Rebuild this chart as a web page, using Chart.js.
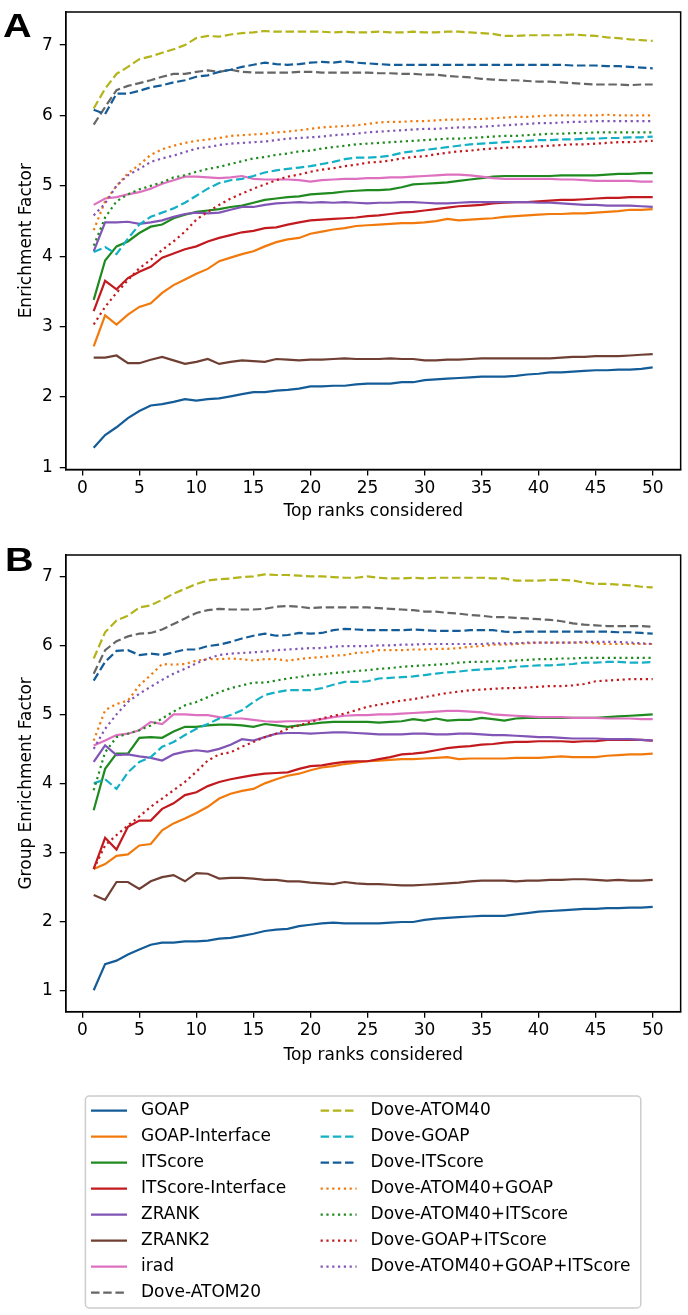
<!DOCTYPE html>
<html>
<head>
<meta charset="utf-8">
<script src="https://cdn.jsdelivr.net/npm/chart.js@4.4.0/dist/chart.umd.min.js"></script>
<style>
  html, body { margin: 0; padding: 0; background: #fff; }
  body { width: 688px; height: 1315px; position: relative; overflow: hidden; }
  canvas { position: absolute; left: 0; }
  #chartA { top: 0; }
  #chartB { top: 530px; }
</style>
</head>
<body>
<canvas id="chartA" width="688" height="522"></canvas>
<canvas id="chartB" width="688" height="785"></canvas>
<script>
// x values: top ranks considered
const ranks = [1,2,3,4,5,6,7,8,9,10,11,12,13,14,15,16,17,18,19,20,21,22,23,24,25,
  26,27,28,29,30,31,32,33,34,35,36,37,38,39,40,41,42,43,44,45,46,47,48,49,50];
const xTicks = [0, 5, 10, 15, 20, 25, 30, 35, 40, 45, 50];
const yTicks = [1, 2, 3, 4, 5, 6, 7];

const methods = ["GOAP", "GOAP-Interface", "ITScore", "ITScore-Interface", "ZRANK", "ZRANK2", "irad",
  "Dove-ATOM20", "Dove-ATOM40", "Dove-GOAP", "Dove-ITScore",
  "Dove-ATOM40+GOAP", "Dove-ATOM40+ITScore", "Dove-GOAP+ITScore", "Dove-ATOM40+GOAP+ITScore"];

// ---- panel A : Enrichment Factor ----
const goapA = [1.28,1.46,1.57,1.70,1.80,1.88,1.90,1.93,1.97,1.95,1.97,1.98,2.01,2.04,2.07,2.07,2.09,2.10,2.12,2.15,
  2.15,2.16,2.16,2.18,2.19,2.19,2.19,2.21,2.21,2.24,2.25,2.26,2.27,2.28,2.29,2.29,2.29,2.30,2.32,2.33,
  2.35,2.35,2.36,2.37,2.38,2.38,2.39,2.39,2.40,2.42];
const goapIfA = [2.72,3.16,3.03,3.17,3.28,3.33,3.48,3.59,3.67,3.75,3.82,3.93,3.98,4.03,4.07,4.14,4.20,4.24,4.26,4.32,
  4.35,4.38,4.40,4.43,4.44,4.45,4.46,4.47,4.47,4.48,4.50,4.53,4.51,4.52,4.53,4.54,4.56,4.57,4.58,4.59,
  4.60,4.60,4.61,4.61,4.62,4.63,4.64,4.66,4.66,4.67];
const itscoreA = [3.38,3.94,4.14,4.21,4.33,4.42,4.45,4.54,4.59,4.63,4.65,4.67,4.70,4.72,4.76,4.80,4.82,4.84,4.85,4.88,
  4.89,4.90,4.92,4.93,4.94,4.94,4.95,4.98,5.02,5.03,5.04,5.05,5.07,5.09,5.11,5.13,5.14,5.14,5.14,5.14,
  5.14,5.15,5.15,5.15,5.15,5.16,5.17,5.17,5.18,5.18];
const itscoreIfA = [3.22,3.65,3.53,3.69,3.78,3.85,3.98,4.04,4.10,4.14,4.21,4.26,4.30,4.34,4.36,4.40,4.41,4.45,4.48,4.51,
  4.52,4.53,4.54,4.55,4.57,4.58,4.60,4.62,4.63,4.65,4.67,4.69,4.71,4.72,4.73,4.75,4.76,4.77,4.77,4.78,
  4.79,4.80,4.80,4.81,4.82,4.83,4.83,4.84,4.84,4.84];
const zrankA = [4.07,4.48,4.48,4.49,4.46,4.48,4.51,4.56,4.60,4.62,4.61,4.62,4.66,4.70,4.70,4.73,4.75,4.76,4.77,4.76,
  4.77,4.76,4.77,4.76,4.75,4.76,4.76,4.77,4.77,4.76,4.75,4.75,4.76,4.77,4.77,4.77,4.77,4.77,4.77,4.76,
  4.76,4.75,4.74,4.73,4.73,4.72,4.72,4.72,4.71,4.70];
const zrank2A = [2.56,2.56,2.59,2.48,2.48,2.53,2.57,2.52,2.47,2.50,2.54,2.47,2.50,2.52,2.51,2.50,2.54,2.53,2.52,2.53,
  2.53,2.54,2.55,2.54,2.54,2.54,2.55,2.54,2.54,2.52,2.52,2.53,2.53,2.54,2.55,2.55,2.55,2.55,2.55,2.55,
  2.55,2.56,2.57,2.57,2.58,2.58,2.58,2.59,2.60,2.61];
const iradA = [4.73,4.82,4.84,4.88,4.91,4.96,5.03,5.08,5.13,5.13,5.12,5.11,5.12,5.14,5.10,5.09,5.09,5.09,5.08,5.06,
  5.08,5.09,5.10,5.10,5.11,5.11,5.12,5.12,5.13,5.14,5.15,5.16,5.16,5.15,5.13,5.11,5.10,5.10,5.10,5.10,
  5.10,5.09,5.09,5.08,5.07,5.07,5.07,5.07,5.06,5.06];
const atom20A = [5.87,6.12,6.36,6.42,6.46,6.50,6.55,6.59,6.59,6.62,6.64,6.62,6.65,6.62,6.61,6.61,6.61,6.61,6.62,6.62,
  6.61,6.61,6.61,6.61,6.61,6.60,6.60,6.59,6.59,6.58,6.58,6.56,6.55,6.54,6.52,6.51,6.50,6.50,6.49,6.48,
  6.48,6.47,6.46,6.45,6.44,6.44,6.44,6.43,6.44,6.44];
const atom40A = [6.10,6.38,6.59,6.69,6.80,6.84,6.89,6.94,7.00,7.10,7.13,7.12,7.15,7.17,7.18,7.20,7.19,7.19,7.19,7.19,
  7.19,7.18,7.19,7.18,7.18,7.19,7.18,7.18,7.19,7.18,7.18,7.19,7.19,7.18,7.17,7.16,7.13,7.13,7.14,7.14,
  7.14,7.14,7.15,7.14,7.13,7.11,7.10,7.08,7.07,7.06];
const doveGoapA = [4.06,4.13,4.03,4.25,4.45,4.56,4.62,4.68,4.76,4.86,4.96,5.04,5.08,5.10,5.14,5.19,5.22,5.24,5.26,5.28,
  5.31,5.34,5.38,5.40,5.40,5.41,5.43,5.47,5.49,5.51,5.53,5.55,5.57,5.59,5.60,5.61,5.62,5.63,5.64,5.65,
  5.65,5.66,5.66,5.67,5.67,5.68,5.68,5.69,5.69,5.70];
const doveItsA = [6.08,6.02,6.31,6.31,6.35,6.40,6.43,6.47,6.50,6.55,6.57,6.62,6.65,6.69,6.72,6.75,6.73,6.72,6.73,6.75,
  6.76,6.75,6.77,6.75,6.74,6.73,6.72,6.72,6.72,6.72,6.72,6.72,6.72,6.72,6.72,6.72,6.72,6.72,6.72,6.72,
  6.72,6.72,6.71,6.71,6.71,6.70,6.70,6.69,6.68,6.67];
const a40GoapA = [4.37,4.78,5.00,5.18,5.30,5.44,5.52,5.57,5.61,5.64,5.66,5.68,5.71,5.72,5.73,5.74,5.76,5.77,5.79,5.81,
  5.83,5.84,5.85,5.86,5.88,5.90,5.91,5.91,5.92,5.92,5.93,5.94,5.94,5.95,5.95,5.96,5.97,5.98,5.98,5.99,
  6.00,6.00,6.00,6.00,6.00,6.01,6.00,6.00,6.00,6.00];
const a40ItsA = [4.15,4.55,4.78,4.88,4.95,5.00,5.05,5.12,5.15,5.20,5.24,5.27,5.31,5.35,5.39,5.41,5.44,5.46,5.49,5.50,
  5.53,5.55,5.57,5.59,5.60,5.61,5.62,5.63,5.64,5.65,5.66,5.67,5.67,5.68,5.69,5.70,5.71,5.71,5.72,5.73,
  5.74,5.74,5.75,5.75,5.76,5.76,5.76,5.76,5.76,5.76];
const goapItsA = [3.03,3.28,3.48,3.66,3.83,3.95,4.09,4.21,4.35,4.52,4.63,4.73,4.82,4.89,4.96,5.02,5.08,5.13,5.16,5.20,
  5.23,5.25,5.28,5.30,5.33,5.34,5.36,5.39,5.41,5.42,5.45,5.47,5.49,5.50,5.52,5.53,5.54,5.55,5.55,5.56,
  5.57,5.58,5.59,5.59,5.60,5.61,5.62,5.62,5.63,5.64];
const allThreeA = [4.58,4.75,5.00,5.15,5.24,5.34,5.39,5.43,5.48,5.53,5.55,5.58,5.60,5.61,5.62,5.63,5.65,5.67,5.68,5.69,
  5.70,5.72,5.73,5.74,5.76,5.77,5.78,5.79,5.80,5.81,5.81,5.82,5.83,5.83,5.84,5.85,5.86,5.87,5.88,5.89,
  5.89,5.90,5.91,5.91,5.92,5.92,5.92,5.92,5.92,5.92];

// ---- panel B : Group Enrichment Factor ----
const goapB = [1.00,1.38,1.43,1.52,1.59,1.66,1.69,1.69,1.71,1.71,1.72,1.75,1.76,1.79,1.82,1.86,1.88,1.89,1.93,1.95,
  1.97,1.98,1.97,1.97,1.97,1.97,1.98,1.99,1.99,2.02,2.04,2.05,2.06,2.07,2.08,2.08,2.08,2.10,2.12,2.14,
  2.15,2.16,2.17,2.18,2.18,2.19,2.19,2.20,2.20,2.21];
const goapIfB = [2.76,2.83,2.95,2.97,3.10,3.12,3.32,3.42,3.49,3.57,3.66,3.78,3.85,3.89,3.92,4.00,4.06,4.11,4.14,4.19,
  4.23,4.25,4.28,4.30,4.32,4.33,4.34,4.35,4.35,4.36,4.37,4.38,4.35,4.36,4.36,4.36,4.36,4.37,4.37,4.37,
  4.38,4.39,4.38,4.38,4.38,4.40,4.41,4.42,4.42,4.43];
const itscoreB = [3.61,4.21,4.43,4.43,4.66,4.67,4.66,4.75,4.82,4.82,4.84,4.85,4.85,4.84,4.82,4.86,4.84,4.82,4.84,4.86,
  4.88,4.89,4.89,4.89,4.89,4.88,4.89,4.90,4.93,4.91,4.94,4.91,4.92,4.92,4.95,4.93,4.91,4.94,4.95,4.95,
  4.95,4.95,4.95,4.95,4.95,4.96,4.97,4.98,4.99,5.00];
const itscoreIfB = [2.76,3.21,3.04,3.37,3.46,3.46,3.63,3.71,3.83,3.87,3.96,4.02,4.06,4.09,4.12,4.14,4.15,4.16,4.21,4.25,
  4.26,4.29,4.31,4.32,4.32,4.35,4.38,4.42,4.43,4.45,4.48,4.51,4.53,4.54,4.56,4.57,4.59,4.60,4.60,4.61,
  4.61,4.61,4.60,4.61,4.61,4.63,4.63,4.63,4.63,4.62];
const zrankB = [4.31,4.55,4.41,4.42,4.39,4.37,4.33,4.42,4.46,4.48,4.46,4.50,4.56,4.64,4.62,4.67,4.72,4.73,4.73,4.72,
  4.73,4.74,4.74,4.73,4.72,4.71,4.71,4.71,4.72,4.72,4.71,4.71,4.72,4.72,4.71,4.70,4.70,4.69,4.68,4.67,
  4.67,4.66,4.65,4.65,4.65,4.64,4.64,4.64,4.63,4.62];
const zrank2B = [2.38,2.31,2.57,2.57,2.47,2.58,2.64,2.67,2.58,2.70,2.69,2.62,2.63,2.63,2.62,2.60,2.60,2.58,2.58,2.56,
  2.55,2.54,2.57,2.55,2.54,2.54,2.53,2.52,2.52,2.53,2.54,2.55,2.56,2.58,2.59,2.59,2.59,2.58,2.59,2.59,
  2.60,2.60,2.61,2.61,2.60,2.59,2.60,2.59,2.59,2.60];
const iradB = [4.55,4.62,4.70,4.72,4.77,4.89,4.86,5.00,5.00,4.99,4.99,4.96,4.94,4.94,4.92,4.90,4.89,4.90,4.90,4.91,
  4.93,4.96,4.98,4.99,4.99,5.00,5.00,5.01,5.02,5.03,5.04,5.05,5.05,5.04,5.03,5.00,4.99,4.98,4.97,4.96,
  4.96,4.96,4.95,4.95,4.95,4.94,4.94,4.94,4.93,4.93];
const atom20B = [5.59,5.93,6.06,6.13,6.17,6.18,6.23,6.31,6.39,6.47,6.51,6.53,6.52,6.52,6.52,6.53,6.56,6.57,6.56,6.54,
  6.55,6.55,6.55,6.55,6.55,6.54,6.53,6.52,6.51,6.49,6.49,6.47,6.46,6.44,6.43,6.41,6.41,6.40,6.39,6.38,
  6.37,6.35,6.32,6.30,6.29,6.28,6.28,6.28,6.28,6.27];
const atom40B = [5.81,6.19,6.36,6.43,6.55,6.58,6.66,6.75,6.82,6.89,6.94,6.96,6.97,6.99,7.00,7.03,7.02,7.02,7.01,7.00,
  7.00,6.99,6.98,6.98,7.00,6.98,6.97,6.97,6.98,6.97,6.98,6.98,6.98,6.98,6.98,6.97,6.97,6.94,6.94,6.94,
  6.95,6.95,6.94,6.91,6.89,6.89,6.88,6.87,6.85,6.84];
const doveGoapB = [4.00,4.06,3.92,4.16,4.31,4.38,4.53,4.60,4.70,4.79,4.86,4.94,4.99,5.06,5.18,5.28,5.32,5.35,5.35,5.35,
  5.38,5.43,5.47,5.47,5.48,5.52,5.53,5.54,5.55,5.57,5.59,5.61,5.62,5.64,5.65,5.66,5.67,5.69,5.70,5.71,
  5.71,5.72,5.73,5.75,5.75,5.76,5.76,5.75,5.75,5.76];
const doveItsB = [5.49,5.76,5.92,5.93,5.86,5.88,5.86,5.90,5.94,5.94,5.99,6.01,6.05,6.10,6.14,6.17,6.14,6.15,6.18,6.17,
  6.18,6.22,6.24,6.23,6.22,6.22,6.22,6.22,6.23,6.22,6.21,6.21,6.21,6.22,6.22,6.22,6.20,6.19,6.20,6.20,
  6.20,6.20,6.20,6.20,6.20,6.20,6.19,6.19,6.18,6.17];
const a40GoapB = [4.62,5.06,5.15,5.20,5.42,5.57,5.73,5.72,5.73,5.78,5.80,5.80,5.81,5.80,5.78,5.80,5.80,5.78,5.80,5.82,
  5.83,5.85,5.86,5.89,5.90,5.93,5.93,5.93,5.94,5.94,5.95,5.95,5.96,5.98,5.99,6.01,6.01,6.02,6.03,6.04,
  6.04,6.04,6.04,6.04,6.03,6.02,6.02,6.02,6.02,6.02];
const a40ItsB = [3.90,4.45,4.67,4.72,4.77,4.84,4.94,5.04,5.13,5.18,5.25,5.32,5.38,5.42,5.46,5.46,5.49,5.52,5.54,5.57,
  5.58,5.60,5.61,5.63,5.64,5.66,5.67,5.69,5.70,5.71,5.72,5.73,5.75,5.76,5.76,5.77,5.77,5.78,5.79,5.80,
  5.80,5.81,5.81,5.82,5.82,5.82,5.82,5.82,5.82,5.82];
const goapItsB = [2.76,3.10,3.25,3.39,3.52,3.66,3.78,3.90,4.02,4.17,4.33,4.42,4.45,4.53,4.60,4.67,4.72,4.79,4.84,4.89,
  4.94,4.98,5.01,5.06,5.11,5.14,5.17,5.20,5.22,5.25,5.28,5.31,5.33,5.35,5.36,5.37,5.38,5.38,5.39,5.40,
  5.41,5.41,5.42,5.44,5.48,5.49,5.50,5.51,5.51,5.51];
const allThreeB = [4.50,4.79,5.00,5.18,5.30,5.40,5.50,5.59,5.66,5.74,5.81,5.86,5.88,5.89,5.90,5.91,5.93,5.94,5.95,5.96,
  5.96,5.98,5.99,5.99,5.99,6.00,6.00,6.01,6.01,6.02,6.02,6.02,6.02,6.02,6.02,6.03,6.03,6.03,6.04,6.04,
  6.04,6.04,6.04,6.05,6.05,6.05,6.05,6.04,6.03,6.02];

const seriesA = [goapA, goapIfA, itscoreA, itscoreIfA, zrankA, zrank2A, iradA,
  atom20A, atom40A, doveGoapA, doveItsA, a40GoapA, a40ItsA, goapItsA, allThreeA];
const seriesB = [goapB, goapIfB, itscoreB, itscoreIfB, zrankB, zrank2B, iradB,
  atom20B, atom40B, doveGoapB, doveItsB, a40GoapB, a40ItsB, goapItsB, allThreeB];

// line looks (matplotlib cycle, a bit darker like the scan)
const lineColors = ["#145c98", "#f27a0c", "#1f8a1f", "#c21a1e", "#8155b5", "#6f3f33", "#de70c0",
  "#666666", "#b3b41a", "#14b0c6", "#145c98", "#f27a0c", "#1f8a1f", "#c21a1e", "#8155b5"];
const lineKinds = ["solid", "solid", "solid", "solid", "solid", "solid", "solid",
  "dashed", "dashed", "dashed", "dashed", "dotted", "dotted", "dotted", "dotted"];

const FONT = "'DejaVu Sans', sans-serif";
Chart.defaults.font.family = FONT;
Chart.defaults.font.size = 17;
Chart.defaults.color = "#000";

const dashes = { solid: [], dashed: [8.5, 3.7], dotted: [2.2, 3.6] };

function buildDatasets(series) {
  return methods.map((name, i) => ({
    label: name,
    data: ranks.map((r, j) => ({ x: r, y: series[i][j] })),
    borderColor: lineColors[i],
    backgroundColor: lineColors[i],
    borderWidth: 2.2,
    borderDash: dashes[lineKinds[i]],
    pointRadius: 0,
    tension: 0,
    fill: false,
    order: methods.length - i
  }));
}

const framePlugin = {
  id: "frame",
  afterDraw(chart) {
    const { ctx, chartArea: a } = chart;
    ctx.save();
    ctx.strokeStyle = "#000";
    ctx.lineWidth = 1.5;
    ctx.strokeRect(a.left, a.top, a.right - a.left, a.bottom - a.top);
    ctx.restore();
  }
};

const letterPlugin = {
  id: "panelLetter",
  afterDraw(chart, args, opts) {
    const ctx = chart.ctx;
    ctx.save();
    ctx.font = "bold 33px 'Liberation Sans', Arial, sans-serif";
    ctx.fillStyle = "#000";
    ctx.textBaseline = "alphabetic";
    ctx.translate(opts.x, opts.y);
    ctx.scale(1.2, 1);
    ctx.fillText(opts.text, 0, 0);
    ctx.restore();
  }
};

// two-column legend under panel B, styled from the datasets themselves
const legendPlugin = {
  id: "sideLegend",
  afterDraw(chart, args, opts) {
    const ctx = chart.ctx;
    const sets = chart.data.datasets;
    ctx.save();
    ctx.fillStyle = "#fff";
    ctx.strokeStyle = "#cccccc";
    ctx.lineWidth = 1.5;
    ctx.beginPath();
    ctx.roundRect(opts.left, opts.top, opts.width, opts.height, 4);
    ctx.fill();
    ctx.stroke();
    ctx.font = "17px " + FONT;
    ctx.textBaseline = "middle";
    sets.forEach((ds, i) => {
      const col = i < opts.perCol ? 0 : 1;
      const row = i % opts.perCol;
      const y = opts.firstRow + row * opts.rowGap;
      const x0 = opts.colX[col];
      ctx.strokeStyle = ds.borderColor;
      ctx.lineWidth = ds.borderWidth;
      ctx.setLineDash(ds.borderDash);
      ctx.beginPath();
      ctx.moveTo(x0, y);
      ctx.lineTo(x0 + opts.sample, y);
      ctx.stroke();
      ctx.setLineDash([]);
      ctx.fillStyle = "#000";
      ctx.fillText(ds.label, x0 + opts.textGap, y);
    });
    ctx.restore();
  }
};

function makeChart(canvas, series, cfg) {
  return new Chart(canvas, {
    type: "line",
    data: { datasets: buildDatasets(series) },
    options: {
      responsive: false,
      animation: false,
      devicePixelRatio: 1,
      layout: { padding: cfg.padding },
      plugins: {
        legend: { display: false },
        tooltip: { enabled: false },
        panelLetter: cfg.letter,
        sideLegend: cfg.legend || {}
      },
      scales: {
        x: {
          type: "linear",
          min: -1.45,
          max: 52.45,
          afterBuildTicks: (s) => { s.ticks = xTicks.map((v) => ({ value: v })); },
          afterFit: (s) => { s.height = cfg.xHeight; s.paddingLeft = 0; s.paddingRight = 0; },
          ticks: { padding: 3, maxRotation: 0, autoSkip: false, color: "#000", callback: (v) => String(v) },
          grid: { drawOnChartArea: false, drawTicks: true, tickLength: 6, color: "#000", lineWidth: 1.3 },
          border: { display: true, color: "#000", width: 1.5 },
          title: { display: true, text: "Top ranks considered", color: "#000", padding: { top: 0, bottom: 0 } }
        },
        y: {
          type: "linear",
          min: cfg.yMin,
          max: cfg.yMax,
          afterBuildTicks: (s) => { s.ticks = yTicks.map((v) => ({ value: v })); },
          afterFit: (s) => { s.width = 65.75; s.paddingTop = 0; s.paddingBottom = 0; },
          ticks: { padding: 7, color: "#000", callback: (v) => String(v) },
          grid: { drawOnChartArea: false, drawTicks: true, tickLength: 6, color: "#000", lineWidth: 1.3 },
          border: { display: true, color: "#000", width: 1.5 },
          title: { display: true, text: cfg.yTitle, color: "#000", padding: { top: 16, bottom: 0 } }
        }
      }
    },
    plugins: cfg.legend ? [framePlugin, letterPlugin, legendPlugin] : [framePlugin, letterPlugin]
  });
}

makeChart(document.getElementById("chartA"), seriesA, {
  yMin: 0.97, yMax: 7.47,
  yTitle: "Enrichment Factor",
  padding: { top: 12, right: 7.35, left: 0, bottom: 0 },
  xHeight: 52.5,
  letter: { text: "A", x: 3, y: 36.5 }
});

makeChart(document.getElementById("chartB"), seriesB, {
  yMin: 0.69, yMax: 7.31,
  yTitle: "Group Enrichment Factor",
  padding: { top: 25, right: 7.35, left: 0, bottom: 248.8 },
  xHeight: 54.5,
  letter: { text: "B", x: 5, y: 41 },
  legend: {
    left: 85.4, top: 566, width: 555.4, height: 212,
    perCol: 8, firstRow: 580.7, rowGap: 26,
    colX: [91, 320.6], sample: 36, textGap: 50
  }
});
</script>
</body>
</html>
